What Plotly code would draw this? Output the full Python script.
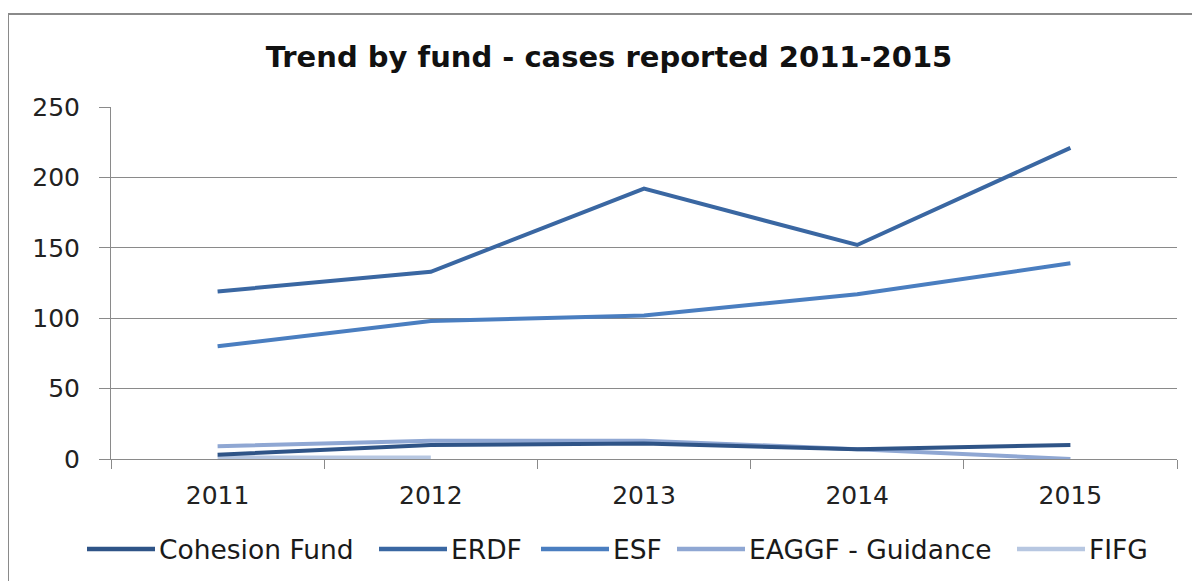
import plotly.graph_objects as go

years = ["2011", "2012", "2013", "2014", "2015"]
funds = ["Cohesion Fund", "ERDF", "ESF", "EAGGF - Guidance", "FIFG"]

cohesion_fund = [3, 10, 11, 7, 10]
erdf = [119, 133, 192, 152, 221]
esf = [80, 98, 102, 117, 139]
eaggf_guidance = [9, 13, 13, 7, 0]
fifg = [1, 1, None, None, None]

series = [cohesion_fund, erdf, esf, eaggf_guidance, fifg]
colors = ["#2F5487", "#3A67A2", "#4A7EC0", "#8FA7D3", "#B7C7E1"]

fig = go.Figure()

# draw light series first so darker ones sit on top, like the original
for name, values, color in reversed(list(zip(funds, series, colors))):
    fig.add_trace(go.Scatter(
        x=years,
        y=values,
        name=name,
        mode="lines",
        line=dict(color=color, width=4),
        showlegend=False,
    ))

# the page body adds an 8px offset, so work in screen pixels minus 8
OFF = 8
FW, FH = 1200 - OFF, 581 - OFF
L, R, T, B = 111 - OFF, 1177 - OFF, 107 - OFF, 459 - OFF
W, H = R - L, B - T


def px_x(p):
    return (p - OFF - L) / W


def px_y(p):
    return (B - (p - OFF)) / H


shapes = [
    # outer chart border (right/bottom run off the page)
    dict(type="rect", xref="paper", yref="paper",
         x0=px_x(8), x1=px_x(1215), y0=px_y(600), y1=px_y(14),
         line=dict(color="#8A8A8A", width=2), fillcolor="rgba(0,0,0,0)"),
]
annotations = []

# custom legend with long line samples
legend_x = [87, 379, 541, 677, 1017]
legend_y = px_y(549)
for name, color, lx in zip(funds, colors, legend_x):
    shapes.append(dict(type="line", xref="paper", yref="paper",
                       x0=px_x(lx), x1=px_x(lx + 68), y0=legend_y, y1=legend_y,
                       line=dict(color=color, width=4.5)))
    annotations.append(dict(xref="paper", yref="paper", x=px_x(lx + 70), y=legend_y,
                            text=name, showarrow=False, xanchor="left", yanchor="middle",
                            font=dict(family="DejaVu Sans", size=26.5, color="#1A1A1A")))

fig.update_layout(
    width=FW,
    height=FH,
    margin=dict(l=L, r=FW - R, t=T, b=FH - B),
    paper_bgcolor="white",
    plot_bgcolor="white",
    title=dict(
        text="<b>Trend by fund - cases reported 2011-2015</b>",
        x=(609 - OFF) / FW,
        xanchor="center",
        y=1 - (57 - OFF) / FH,
        yanchor="middle",
        font=dict(family="DejaVu Sans", size=29, color="#111111"),
    ),
    shapes=shapes,
    annotations=annotations,
)

fig.update_xaxes(
    type="category",
    range=[-0.5, 4.5],
    tickson="boundaries",
    ticks="outside",
    ticklen=9,
    tickcolor="#8A8A8A",
    showline=True,
    linecolor="#8A8A8A",
    linewidth=1,
    showgrid=False,
    zeroline=False,
    tickfont=dict(family="DejaVu Sans", size=25, color="#222222"),
    ticklabelstandoff=14,
)

fig.update_yaxes(
    range=[0, 250],
    dtick=50,
    ticks="outside",
    ticklen=11,
    tickcolor="#8A8A8A",
    showline=True,
    linecolor="#8A8A8A",
    linewidth=1,
    showgrid=True,
    gridcolor="#8A8A8A",
    gridwidth=1,
    zeroline=False,
    tickfont=dict(family="DejaVu Sans", size=25, color="#222222"),
    ticklabelstandoff=14,
)

fig.write_html("out.html")
